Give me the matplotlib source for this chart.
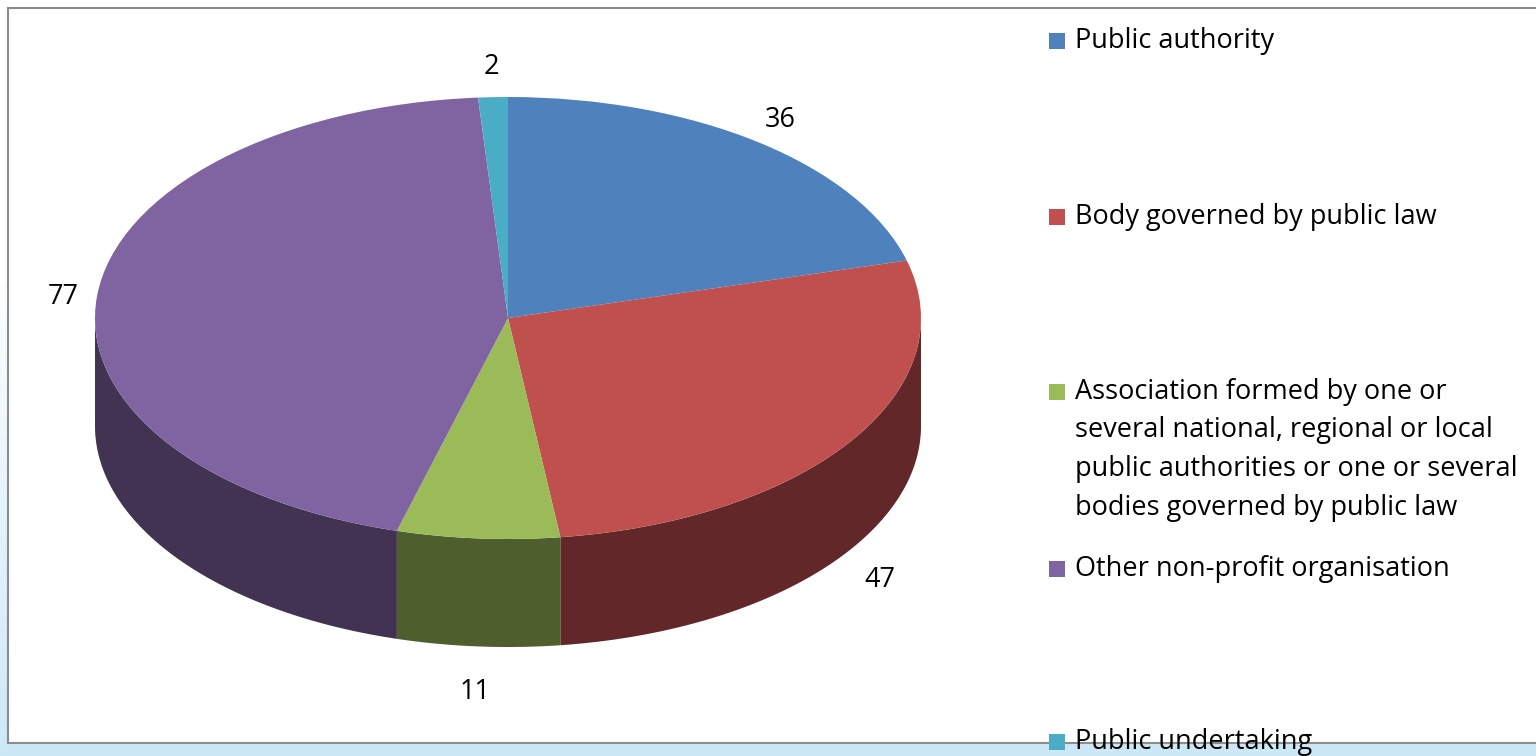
import matplotlib.pyplot as plt
import numpy as np
from matplotlib.patches import Rectangle

# data
categories = [
    "Public authority",
    "Body governed by public law",
    "Association formed by one or\nseveral national, regional or local\n"
    "public authorities or one or several\nbodies governed by public law",
    "Other non-profit organisation",
    "Public undertaking",
]
values = [36, 47, 11, 77, 2]
top_colors = ["#4F81BD", "#C0504D", "#9BBB59", "#8064A2", "#4BACC6"]
side_colors = ["#2E4B6F", "#622728", "#4E5E2D", "#413351", "#2C6A7A"]

W, H = 1536, 756
FONT = "Open Sans"
FS = 19.5

# pie geometry in pixels
cx, cy = 508, 318
rx, ry = 413, 221
depth = 108

fig = plt.figure(figsize=(W / 100, H / 100), dpi=100)

# slide background: white fading to light blue
bg = fig.add_axes([0, 0, 1, 1], zorder=0)
grad = np.linspace(0, 1, 256).reshape(-1, 1)
grad = np.clip((grad - 0.35) / 0.65, 0, 1)
top_c = np.array([1.0, 1.0, 1.0])
bot_c = np.array([0.80, 0.91, 0.97])
img = top_c + (bot_c - top_c) * grad[..., None]
bg.imshow(img, aspect="auto", extent=[0, 1, 0, 1], origin="upper")
bg.set_axis_off()

# chart frame
frame = fig.add_axes([0, 0, 1, 1], zorder=1)
frame.set_xlim(0, W)
frame.set_ylim(H, 0)
frame.set_axis_off()
frame.add_patch(Rectangle((8, 8), W + 20, 735, facecolor="white",
                          edgecolor="#8C8C8C", linewidth=1.5))

# pie axes: one data unit = one radius, so the pie turns into an ellipse
ax = fig.add_axes([0, 0, 1, 1], zorder=2)
ax.patch.set_alpha(0)
wedges, _ = ax.pie(values, colors=top_colors, startangle=90, counterclock=False,
                   radius=1, center=(0, 0), frame=False,
                   wedgeprops=dict(linewidth=0, zorder=3))
ax.set_aspect("auto")
ax.set_xlim(-cx / rx, (W - cx) / rx)
ax.set_ylim(-(H - cy) / ry, cy / ry)
ax.set_axis_off()
d = depth / ry

# side walls (front half only)
total = sum(values)
cum = np.concatenate([[0], np.cumsum(values)])
for i in range(len(values)):
    t_hi = 90 - cum[i] / total * 360
    t_lo = 90 - cum[i + 1] / total * 360
    lo, hi = max(t_lo, -180), min(t_hi, 0)
    if lo >= hi:
        continue
    t = np.radians(np.linspace(lo, hi, 200))
    xs = np.concatenate([np.cos(t), np.cos(t[::-1])])
    ys = np.concatenate([np.sin(t), np.sin(t[::-1]) - d])
    ax.fill(xs, ys, color=side_colors[i], linewidth=0, zorder=1)

# data labels
for i, v in enumerate(values):
    mid = np.radians(90 - (cum[i] + cum[i + 1]) / 2 / total * 360)
    x, y = np.cos(mid), np.sin(mid)
    off = 34
    dx, dy = off * np.cos(mid), off * np.sin(mid)
    if y < 0:
        y -= d
        dy -= 12
    else:
        dy -= 4
    ax.annotate(str(v), (x, y), xytext=(dx, dy),
                textcoords="offset pixels", ha="center", va="center",
                fontsize=FS, family=FONT, color="black", zorder=5)

# legend, placed like the original
leg_y = [41, 217, 392, 569, 742]
line_h = 38.5
for name, col, y in zip(categories, top_colors, leg_y):
    frame.add_patch(Rectangle((1049, y - 8), 16, 16, facecolor=col,
                              edgecolor="none", zorder=3))
    for j, line in enumerate(name.split("\n")):
        frame.text(1075, y + j * line_h, line, ha="left", va="center",
                   fontsize=FS, family=FONT, color="black", zorder=3)

fig.savefig("out.png", dpi=100)
